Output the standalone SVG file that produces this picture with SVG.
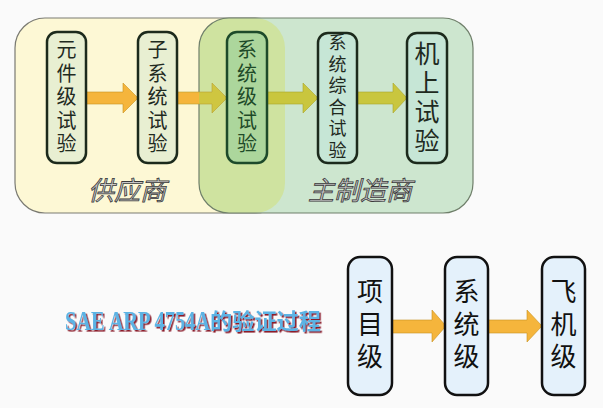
<svg xmlns="http://www.w3.org/2000/svg" width="603" height="408" viewBox="0 0 603 408">
<style>
.cjk{font-family:"Noto Sans CJK SC","Noto Sans",sans-serif;text-anchor:middle}
.tn{stroke:#1c2a1c;stroke-width:2.5}
.bn{fill:#e4f1fb;stroke:#111;stroke-width:2.5}
.t20{font-size:20px;fill:#1f2a1f}
.lbl{font-family:"Noto Sans CJK SC",sans-serif;font-size:26px;font-style:italic;fill:#c8c8c8;stroke:#3a3a3a;stroke-width:0.8;text-anchor:start}
.arO{fill:#f5b53c;stroke:#c8921e;stroke-width:0.6}
.arG{fill:#c9c63e;stroke:#a9a42a;stroke-width:0.6}
.b26{font-size:26px;fill:#111}
.ttl{fill:#5cb3e4;font-weight:bold;filter:url(#sh)}
</style>
<defs>
<linearGradient id="a2" gradientUnits="userSpaceOnUse" x1="177" y1="0" x2="227" y2="0">
<stop offset="0.44" stop-color="#f5b53c"/><stop offset="0.44" stop-color="#cfc640"/>
</linearGradient>
<filter id="sh" x="-5%" y="-20%" width="110%" height="150%">
<feDropShadow dx="1.6" dy="1.6" stdDeviation="0.3" flood-color="#8a1c2c" flood-opacity="1"/>
</filter>
</defs>
<rect width="603" height="408" fill="#fafafa"/>
<g id="regions">
<rect x="15" y="18" width="270" height="195" rx="30" fill="#fdf8d5" stroke="#7a7a72" stroke-width="1.2"/>
<rect x="199" y="18" width="274" height="195" rx="30" fill="#cde6cf"/>
<path d="M229,18 H255 A30,30 0 0 1 285,48 V183 A30,30 0 0 1 255,213 H229 A30,30 0 0 1 199,183 V48 A30,30 0 0 1 229,18 Z" fill="#cfe3a0"/>
<rect x="199" y="18" width="274" height="195" rx="30" fill="none" stroke="#6f7f6a" stroke-width="1.2"/>
</g>
<g id="connectors">
<polygon class="arO" points="86,92 123,92 123,83 138,98 123,113 123,104 86,104"/>
<polygon points="177,92 212,92 212,83 227,98 212,113 212,104 177,104" fill="url(#a2)" stroke="#b9a030" stroke-width="0.6"/>
<polygon class="arG" points="267,92 303,92 303,83 318,98 303,113 303,104 267,104"/>
<polygon class="arG" points="357,92 393,92 393,83 407,98 393,113 393,104 357,104"/>
<polygon class="arO" points="392,320 432,320 432,310 446,326 432,342 432,333 392,333"/>
<polygon class="arO" points="488,320 527,320 527,310 542,326 527,342 527,333 488,333"/>
</g>
<g id="n-yuanjian">
<rect class="tn" x="47" y="32" width="39" height="131" rx="10" fill="#e8efd2"/>
<text class="cjk t20"><tspan x="66.5" y="57">元</tspan><tspan x="66.5" y="80.5">件</tspan><tspan x="66.5" y="104">级</tspan><tspan x="66.5" y="127.5">试</tspan><tspan x="66.5" y="151">验</tspan></text>
</g>
<g id="n-zixitong">
<rect class="tn" x="138" y="32" width="39" height="131" rx="10" fill="#e8efd2"/>
<text class="cjk t20"><tspan x="157.5" y="57">子</tspan><tspan x="157.5" y="80.5">系</tspan><tspan x="157.5" y="104">统</tspan><tspan x="157.5" y="127.5">试</tspan><tspan x="157.5" y="151">验</tspan></text>
</g>
<g id="n-xitongji">
<rect x="227" y="32" width="40" height="131" rx="10" fill="#acd69c" stroke="#1d4a2a" stroke-width="2.5"/>
<text class="cjk t20" style="fill:#1e4a28"><tspan x="247" y="57">系</tspan><tspan x="247" y="80.5">统</tspan><tspan x="247" y="104">级</tspan><tspan x="247" y="127.5">试</tspan><tspan x="247" y="151">验</tspan></text>
</g>
<g id="n-zonghe">
<rect class="tn" x="318" y="33" width="39" height="130" rx="10" fill="#c6e6d6"/>
<text class="cjk" style="font-size:18px;fill:#1f2a1f"><tspan x="337.5" y="49">系</tspan><tspan x="337.5" y="70.5">统</tspan><tspan x="337.5" y="92">综</tspan><tspan x="337.5" y="113.5">合</tspan><tspan x="337.5" y="135">试</tspan><tspan x="337.5" y="156.5">验</tspan></text>
</g>
<g id="n-jishang">
<rect class="tn" x="407" y="33" width="40" height="130" rx="10" fill="#c6e6d6"/>
<text class="cjk" style="font-size:25px;fill:#1f2a1f"><tspan x="427" y="63">机</tspan><tspan x="427" y="92">上</tspan><tspan x="427" y="121">试</tspan><tspan x="427" y="150">验</tspan></text>
</g>
<g id="lbl-supplier"><text class="lbl" x="88" y="200">供应商</text></g>
<g id="lbl-oem"><text class="lbl" x="308" y="200">主制造商</text></g>
<g id="title">
<text class="ttl" x="65" y="330" font-family="Liberation Serif,serif" font-size="28" textLength="145" lengthAdjust="spacingAndGlyphs">SAE ARP 4754A</text>
<text class="ttl" x="210" y="329" font-family="Noto Sans CJK SC,sans-serif" font-size="22" textLength="111" lengthAdjust="spacingAndGlyphs">的验证过程</text>
</g>
<g id="n-xiangmu">
<rect class="bn" x="348" y="257" width="44" height="138" rx="12"/>
<text class="cjk b26"><tspan x="370" y="301">项</tspan><tspan x="370" y="334">目</tspan><tspan x="370" y="366">级</tspan></text>
</g>
<g id="n-xitong">
<rect class="bn" x="445" y="257" width="43" height="138" rx="12"/>
<text class="cjk b26"><tspan x="466.5" y="301">系</tspan><tspan x="466.5" y="334">统</tspan><tspan x="466.5" y="366">级</tspan></text>
</g>
<g id="n-feiji">
<rect class="bn" x="542" y="257" width="43" height="138" rx="12"/>
<text class="cjk b26"><tspan x="563.5" y="301">飞</tspan><tspan x="563.5" y="334">机</tspan><tspan x="563.5" y="366">级</tspan></text>
</g>
</svg>
